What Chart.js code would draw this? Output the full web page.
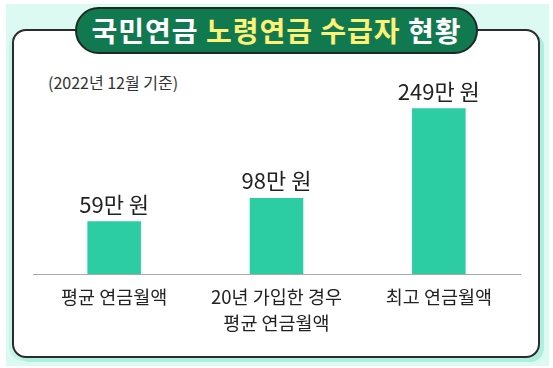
<!DOCTYPE html>
<html>
<head>
<meta charset="utf-8">
<script src="https://cdn.jsdelivr.net/npm/chart.js@4"></script>
<style>
  html, body { margin: 0; padding: 0; background: #fff; }
  #wrap { position: relative; width: 553px; height: 368px; overflow: hidden; font-family: "Noto Sans CJK KR", sans-serif; }
  #bg { position: absolute; left: 6px; top: 4px; width: 543px; height: 362px; background: #dcfaf2; }
  #panel { position: absolute; left: 12px; top: 29px; width: 524px; height: 325px; border: 2px solid #2b2b2b; border-radius: 14px; background: #fff; box-shadow: 4px 4px 0 #aeeedc, -3px 3px 0 #c4f5e7; }
  #pill { position: absolute; left: 75px; top: 7px; width: 399px; height: 43px; border: 2.5px solid #1d2a24; border-radius: 24px; background: #11794f; color: #fff; font-weight: bold; font-size: 28px; line-height: 43px; text-align: center; letter-spacing: 1px; }
  #pill span { color: #fff176; }
  #note { position: absolute; left: 48px; top: 70px; font-size: 16px; color: #333; }
  canvas { position: absolute; left: 0; top: 0; }
</style>
</head>
<body>
<div id="wrap">
  <div id="bg"></div>
  <div id="panel"></div>
  <div id="pill">국민연금 <span>노령연금 수급자</span> 현황</div>
  <div id="note">(2022년 12월 기준)</div>
  <canvas id="chart" width="553" height="368"></canvas>
</div>
<script>
// 노령연금 월액 (만 원)
const categorias = [["평균 연금월액"], ["20년 가입한 경우", "평균 연금월액"], ["최고 연금월액"]];
const montos = [59, 98, 249];
const etiquetas = ["59만 원", "98만 원", "249만 원"];

// Etiquetas encima de cada barra
const valorArriba = {
  id: "valorArriba",
  afterDatasetsDraw(chart) {
    const ctx = chart.ctx;
    const meta = chart.getDatasetMeta(0);
    ctx.save();
    ctx.font = "22px 'Noto Sans CJK KR'";
    ctx.fillStyle = "#222";
    ctx.textAlign = "center";
    ctx.textBaseline = "bottom";
    meta.data.forEach((bar, i) => {
      ctx.fillText(etiquetas[i], bar.x, bar.y - 6);
    });
    ctx.restore();
  },
};

new Chart(document.getElementById("chart").getContext("2d"), {
  type: "bar",
  data: {
    labels: categorias,
    datasets: [
      {
        data: montos,
        base: -30,
        backgroundColor: "#2ccda3",
        barPercentage: 0.33,
        categoryPercentage: 1,
      },
    ],
  },
  options: {
    responsive: false,
    animation: false,
    layout: { padding: { left: 33, right: 33, top: 78, bottom: 30 } },
    plugins: { legend: { display: false }, tooltip: { enabled: false } },
    scales: {
      x: {
        grid: { display: false },
        border: { display: true, color: "#aaa", width: 1 },
        ticks: { color: "#222", padding: 2, font: { family: "'Noto Sans CJK KR'", size: 18.5, lineHeight: 1.4 } },
      },
      y: { display: false, min: -30, max: 300 },
    },
  },
  plugins: [valorArriba],
});
</script>
</body>
</html>
